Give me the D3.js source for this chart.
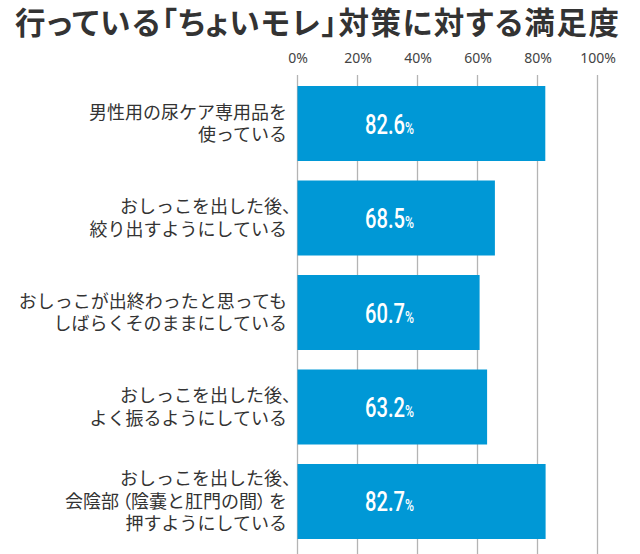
<!DOCTYPE html>
<html>
<head>
<meta charset="utf-8">
<script src="https://cdn.jsdelivr.net/npm/d3@7"></script>
<style>
  html, body { margin: 0; padding: 0; background: #fff; }
  svg { display: block; }
  .palt { font-feature-settings: "palt" 1; }
</style>
</head>
<body>
<svg id="chart" width="640" height="554"></svg>
<script>
const title = "行っている「ちょいモレ」対策に対する満足度";
const categories = [
  ["男性用の尿ケア専用品を", "使っている"],
  ["おしっこを出した後、", "絞り出すようにしている"],
  ["おしっこが出終わったと思っても", "しばらくそのままにしている"],
  ["おしっこを出した後、", "よく振るようにしている"],
  ["おしっこを出した後、", "会陰部（陰嚢と肛門の間）を", "押すようにしている"]
];
// bar lengths as drawn in the picture
const barValues = [82.6, 65.8, 60.7, 63.2, 82.7];
// value labels as printed on the bars
const valueLabels = ["82.6", "68.5", "60.7", "63.2", "82.7"];
const tickValues = [0, 20, 40, 60, 80, 100];
const tickLabels = ["0%", "20%", "40%", "60%", "80%", "100%"];

const svg = d3.select("#chart");
const jp = "'Noto Sans CJK JP', 'Noto Sans', sans-serif";

const x = d3.scaleLinear().domain([0, 100]).range([297.5, 597.5]);
const y = d3.scaleBand().domain(d3.range(barValues.length))
  .range([76.25, 548.75]).paddingInner(0.2063).paddingOuter(0.1032);

// title
svg.append("text")
  .attr("class", "palt")
  .attr("x", 15).attr("y", 34)
  .attr("font-family", jp).attr("font-weight", 700)
  .attr("font-size", 30.5).attr("fill", "#333")
  .attr("textLength", 604).attr("lengthAdjust", "spacing")
  .text(title);

// gridlines
svg.append("g").selectAll("line").data(tickValues).join("line")
  .attr("x1", d => x(d)).attr("x2", d => x(d))
  .attr("y1", 75).attr("y2", 554)
  .attr("stroke", "#b4b4b4").attr("stroke-width", 1.3);

// top axis labels
const axis = d3.axisTop(x).tickValues(tickValues)
  .tickFormat((d, i) => tickLabels[i]).tickSize(0).tickPadding(0);
const ag = svg.append("g").attr("transform", "translate(0,63)").call(axis);
ag.select(".domain").remove();
ag.selectAll("text")
  .attr("font-family", "'Noto Sans', 'Open Sans', sans-serif")
  .attr("font-size", 14).attr("fill", "#444").attr("dy", 0);

// bars
svg.append("g").selectAll("rect").data(barValues).join("rect")
  .attr("x", x(0)).attr("y", (d, i) => y(i))
  .attr("width", d => x(d) - x(0)).attr("height", y.bandwidth())
  .attr("fill", "#0098d6");

// value labels
const vl = svg.append("g").selectAll("g").data(valueLabels).join("g")
  .attr("transform", (d, i) => `translate(${x(30.7)},${y(i) + y.bandwidth() / 2 + 10}) scale(0.72,1)`);
const vt = vl.append("text")
  .attr("text-anchor", "middle")
  .attr("font-family", "Roboto, 'Liberation Sans', sans-serif")
  .attr("font-weight", 500).attr("fill", "#fff");
vt.append("tspan").attr("font-size", 28).text(d => d);
vt.append("tspan").attr("font-size", 17).text("%");

// category labels
const lineH = 22.5;
const cg = svg.append("g").selectAll("g").data(categories).join("g");
cg.each(function(lines, i) {
  const g = d3.select(this);
  const cy = y(i) + y.bandwidth() / 2;
  lines.forEach((ln, j) => {
    const t = g.append("text")
      .attr("text-anchor", "end")
      .attr("font-family", jp).attr("font-size", 18).attr("fill", "#333")
      .attr("x", ln.endsWith("、") ? 300 : 287)
      .attr("y", cy + (j - (lines.length - 1) / 2) * lineH + 6.5);
    ln.split(/([（）])/).filter(s => s.length).forEach(seg => {
      const sp = t.append("tspan").text(seg);
      if (seg === "（" || seg === "）") sp.attr("class", "palt").attr("dx", seg === "（" ? 3 : 0);
      if (seg === "を" && ln.includes("）")) sp.attr("dx", 3);
    });
  });
});
</script>
</body>
</html>
